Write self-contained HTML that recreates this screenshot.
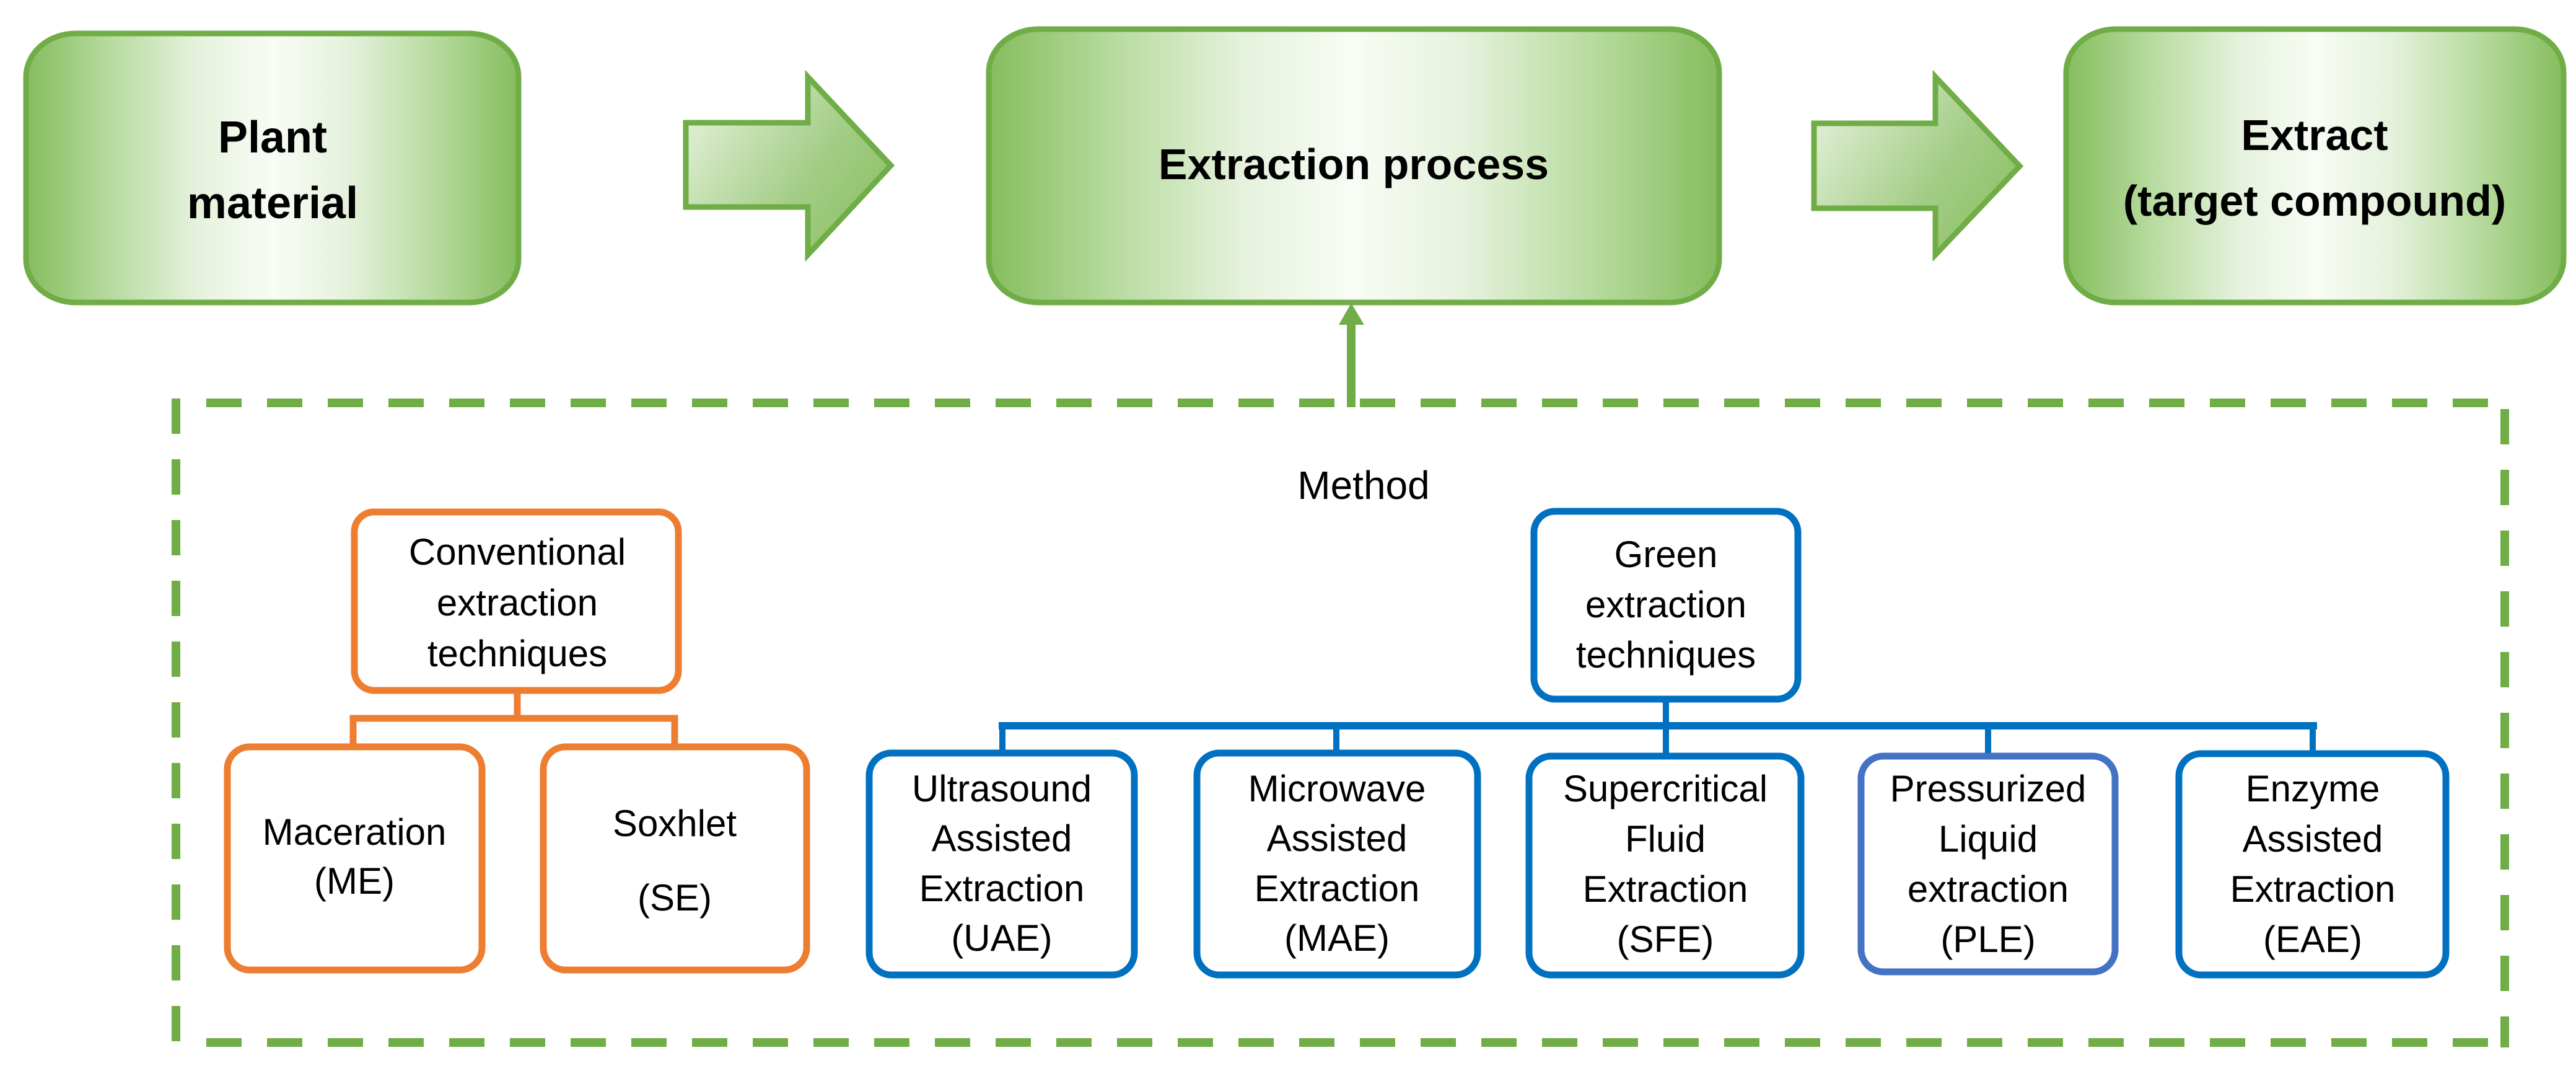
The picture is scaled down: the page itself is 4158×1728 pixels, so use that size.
<!DOCTYPE html>
<html><head><meta charset="utf-8"><style>
html,body{margin:0;padding:0;background:#fff;}
svg{display:block;}
text{font-family:"Liberation Sans",sans-serif;fill:#000;}
</style></head><body>
<svg width="4158" height="1728" viewBox="0 0 4158 1728" xmlns="http://www.w3.org/2000/svg">
<defs>
<linearGradient id="g" x1="0" y1="0" x2="1" y2="0">
<stop offset="0" stop-color="#86bd5e"/>
<stop offset="0.18" stop-color="#b9dca2"/>
<stop offset="0.35" stop-color="#e6f2dd"/>
<stop offset="0.5" stop-color="#f8fcf5"/>
<stop offset="0.65" stop-color="#e6f2dd"/>
<stop offset="0.82" stop-color="#b9dca2"/>
<stop offset="1" stop-color="#86bd5e"/>
</linearGradient>
<linearGradient id="ag" x1="0" y1="0.2" x2="1" y2="0.8">
<stop offset="0" stop-color="#e2f0d8"/>
<stop offset="0.6" stop-color="#a3cd86"/>
<stop offset="1" stop-color="#8cc064"/>
</linearGradient>
</defs>

<rect x="42" y="54" width="795" height="434" rx="80" ry="70" fill="url(#g)" stroke="#70AD47" stroke-width="9"/>
<rect x="1596" y="47" width="1179" height="441" rx="80" ry="70" fill="url(#g)" stroke="#70AD47" stroke-width="9"/>
<rect x="3335" y="47" width="803" height="441" rx="80" ry="70" fill="url(#g)" stroke="#70AD47" stroke-width="9"/>

<text x="440" y="246" font-size="72" font-weight="bold" text-anchor="middle">Plant</text>
<text x="440" y="352" font-size="72" font-weight="bold" text-anchor="middle">material</text>
<text x="2185" y="289" font-size="70" font-weight="bold" text-anchor="middle">Extraction process</text>
<text x="3736" y="242" font-size="70" font-weight="bold" text-anchor="middle">Extract</text>
<text x="3736" y="348" font-size="70" font-weight="bold" text-anchor="middle">(target compound)</text>

<polygon points="1107,198 1304,198 1304,124 1438,267 1304,411 1304,334 1107,334" fill="url(#ag)" stroke="#70AD47" stroke-width="9"/>
<polygon points="2928,199 3124,199 3124,124 3260,268 3124,411 3124,336 2928,336" fill="url(#ag)" stroke="#70AD47" stroke-width="9"/>

<line x1="2181" y1="657" x2="2181" y2="520" stroke="#70AD47" stroke-width="14"/>
<polygon points="2161,524 2202,524 2181,489" fill="#70AD47"/>

<g stroke="#70AD47" stroke-width="14" fill="none">
<line x1="333" y1="650" x2="4020" y2="650" stroke-dasharray="57 41"/>
<line x1="284" y1="643" x2="284" y2="1690" stroke-dasharray="57 41"/>
<line x1="333" y1="1682" x2="4040" y2="1682" stroke-dasharray="57 41"/>
<line x1="4043" y1="660" x2="4043" y2="1690" stroke-dasharray="57 41"/>
</g>

<text x="2201" y="805" font-size="64" text-anchor="middle">Method</text>

<g stroke="#ED7D31" stroke-width="11" fill="#fff">
<polyline points="835,1118 835,1159 570,1159 570,1200" fill="none"/>
<polyline points="835,1159 1089,1159 1089,1200" fill="none"/>
<rect x="572" y="826" width="523" height="288" rx="32"/>
<rect x="367" y="1205" width="411" height="360" rx="36"/>
<rect x="877" y="1205" width="425" height="360" rx="36"/>
</g>
<text x="835" y="911" font-size="60" text-anchor="middle">Conventional</text>
<text x="835" y="993" font-size="60" text-anchor="middle">extraction</text>
<text x="835" y="1075" font-size="60" text-anchor="middle">techniques</text>
<text x="572" y="1363" font-size="60" text-anchor="middle">Maceration</text>
<text x="572" y="1442" font-size="60" text-anchor="middle">(ME)</text>
<text x="1089" y="1349" font-size="60" text-anchor="middle">Soxhlet</text>
<text x="1089" y="1469" font-size="60" text-anchor="middle">(SE)</text>

<g stroke="#0070C0" fill="none">
<line x1="1612" y1="1171" x2="3740" y2="1171" stroke-width="12"/>
<line x1="2689" y1="1133" x2="2689" y2="1215" stroke-width="10"/>
<line x1="1618" y1="1171" x2="1618" y2="1215" stroke-width="10"/>
<line x1="2157" y1="1171" x2="2157" y2="1215" stroke-width="10"/>
<line x1="3209" y1="1171" x2="3209" y2="1215" stroke-width="10"/>
<line x1="3733" y1="1171" x2="3733" y2="1211" stroke-width="10"/>
</g>
<g stroke-width="11" fill="#fff">
<rect x="2476" y="825" width="426" height="303" rx="34" stroke="#0070C0"/>
<rect x="1403" y="1215" width="428" height="358" rx="36" stroke="#0070C0"/>
<rect x="1932" y="1215" width="453" height="358" rx="36" stroke="#0070C0"/>
<rect x="2468" y="1220" width="439" height="353" rx="36" stroke="#0070C0"/>
<rect x="3004" y="1220" width="410" height="348" rx="36" stroke="#4472C4"/>
<rect x="3517" y="1216" width="431" height="357" rx="36" stroke="#0070C0"/>
</g>
<g font-size="60" text-anchor="middle">
<text x="2689" y="915">Green</text>
<text x="2689" y="996">extraction</text>
<text x="2689" y="1077">techniques</text>

<text x="1617" y="1293">Ultrasound</text>
<text x="1617" y="1373">Assisted</text>
<text x="1617" y="1454">Extraction</text>
<text x="1617" y="1534">(UAE)</text>

<text x="2158" y="1293">Microwave</text>
<text x="2158" y="1373">Assisted</text>
<text x="2158" y="1454">Extraction</text>
<text x="2158" y="1534">(MAE)</text>

<text x="2688" y="1293">Supercritical</text>
<text x="2688" y="1374">Fluid</text>
<text x="2688" y="1455">Extraction</text>
<text x="2688" y="1536">(SFE)</text>

<text x="3209" y="1293">Pressurized</text>
<text x="3209" y="1374">Liquid</text>
<text x="3209" y="1455">extraction</text>
<text x="3209" y="1536">(PLE)</text>

<text x="3733" y="1293">Enzyme</text>
<text x="3733" y="1374">Assisted</text>
<text x="3733" y="1455">Extraction</text>
<text x="3733" y="1536">(EAE)</text>
</g>
</svg>
</body></html>
